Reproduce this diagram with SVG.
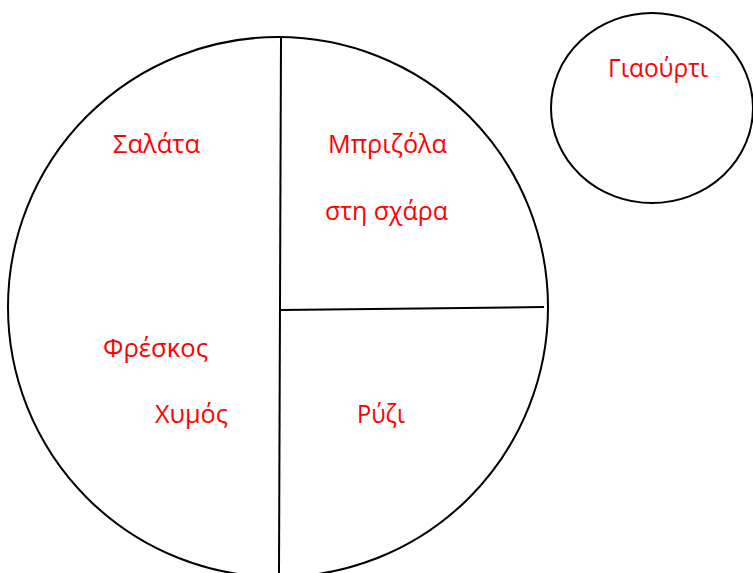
<svg xmlns="http://www.w3.org/2000/svg" width="753" height="573" viewBox="0 0 753 573">
<style>
.shape{fill:none;stroke:#000;stroke-width:2}
.lbl{fill:#ff0000;font-family:"Open Sans","Noto Sans","Liberation Sans",sans-serif;font-size:26px}
</style>
<rect width="753" height="573" fill="#fff"/>
<g id="plate">
<ellipse class="shape" cx="278" cy="307" rx="270" ry="270"/>
</g>
<g id="connectors">
<line class="shape" x1="281" y1="38" x2="279" y2="573"/>
<line class="shape" x1="281" y1="310" x2="544" y2="307"/>
</g>
<g id="salata">
<text class="lbl" x="113" y="153" textLength="87" lengthAdjust="spacingAndGlyphs">Σαλάτα</text>
</g>
<g id="brizola">
<text class="lbl" x="328" y="153" textLength="119" lengthAdjust="spacingAndGlyphs">Μπριζόλα</text>
<text class="lbl" x="325" y="220" textLength="123" lengthAdjust="spacingAndGlyphs">στη σχάρα</text>
</g>
<g id="xymos">
<text class="lbl" x="103" y="357" textLength="105" lengthAdjust="spacingAndGlyphs">Φρέσκος</text>
<text class="lbl" x="155" y="423" textLength="73" lengthAdjust="spacingAndGlyphs">Χυμός</text>
</g>
<g id="ryzi">
<text class="lbl" x="357" y="423" textLength="48" lengthAdjust="spacingAndGlyphs">Ρύζι</text>
</g>
<g id="giaourti">
<ellipse class="shape" cx="652" cy="108" rx="101" ry="95"/>
<text class="lbl" x="608" y="77" textLength="100" lengthAdjust="spacingAndGlyphs">Γιαούρτι</text>
</g>
</svg>
